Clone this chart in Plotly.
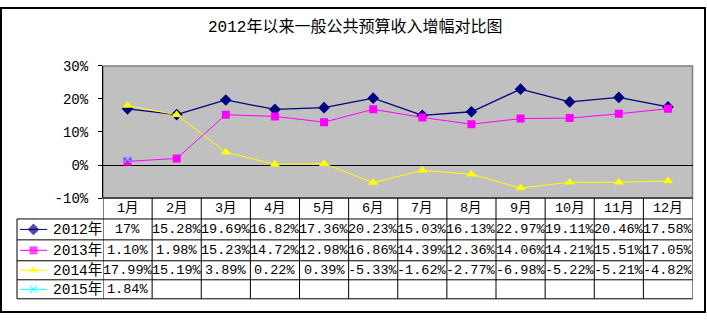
import plotly.graph_objects as go

# ---- data -------------------------------------------------------------
months = ["1月", "2月", "3月", "4月", "5月", "6月", "7月", "8月", "9月", "10月", "11月", "12月"]
series_names = ["2012年", "2013年", "2014年", "2015年"]
v2012 = [17, 15.28, 19.69, 16.82, 17.36, 20.23, 15.03, 16.13, 22.97, 19.11, 20.46, 17.58]
v2013 = [1.10, 1.98, 15.23, 14.72, 12.98, 16.86, 14.39, 12.36, 14.06, 14.21, 15.51, 17.05]
v2014 = [17.99, 15.19, 3.89, 0.22, 0.39, -5.33, -1.62, -2.77, -6.98, -5.22, -5.21, -4.82]
v2015 = [1.84]
y_ticks = [-10, 0, 10, 20, 30]
title_text = "2012年以来一般公共预算收入增幅对比图"

# ---- styling ----------------------------------------------------------
W, H = 707, 323
FONT = "Liberation Mono, Noto Sans CJK SC, monospace"
colors = ["#000080", "#FF00FF", "#FFFF00", "#00FFFF"]
symbols = ["diamond", "square", "triangle-up", "x-thin-open"]
msizes = [9, 8, 9, 7]

# plot-area and table geometry (pixels)
PL, PR, PT, PB = 103, 692.5, 62, 201
row_edges = [201, 223, 245, 267, 287, 307]   # header row + 4 series rows
TL = 17                                      # left edge of legend column


def px(x):
    return x / W


def py(y):
    return 1 - y / H


def fmt(v):
    return f"{v:.0f}%" if float(v).is_integer() else f"{v:.2f}%"


all_series = [v2012, v2013, v2014, v2015]

fig = go.Figure()

# main lines
for name, vals, c, s, ms in zip(series_names, all_series, colors, symbols, msizes):
    fig.add_trace(go.Scatter(
        x=months[:len(vals)], y=vals, name=name, mode="lines+markers",
        line=dict(color=c, width=1.3 if c == "#000080" else 1),
        marker=dict(symbol=s, size=ms, color=c, line=dict(color=c, width=1.2 if "x" in s else 0)),
        showlegend=False, hoverinfo="skip",
    ))

# legend keys inside the data table (overlay axes in pixel units)
for i, (c, s, ms) in enumerate(zip(colors, symbols, msizes)):
    yc = (row_edges[i + 1] + row_edges[i + 2]) / 2
    fig.add_trace(go.Scatter(
        x=[20, 33.5, 47], y=[yc, yc, yc], mode="lines+markers",
        line=dict(color=c, width=1),
        marker=dict(symbol=s, size=[0, ms, 0], color=c,
                    line=dict(color=c, width=1.2 if "x" in s else 0)),
        xaxis="x2", yaxis="y2", showlegend=False, hoverinfo="skip", cliponaxis=False,
    ))

shapes = []
annotations = []

# gray plot area with gray frame (left side is covered by the black axis line)
shapes.append(dict(type="rect", xref="paper", yref="paper",
                   x0=px(PL), x1=px(PR), y0=py(PB), y1=py(PT),
                   fillcolor="#C0C0C0",
                   line=dict(color="#808080", width=1.5), layer="below"))

# outer chart border
shapes.append(dict(type="rect", xref="paper", yref="paper",
                   x0=px(1), x1=px(705), y0=py(321), y1=py(1),
                   line=dict(color="black", width=2)))

# table: horizontal rules
shapes.append(dict(type="line", xref="paper", yref="paper",
                   x0=px(PL), x1=px(PR), y0=py(row_edges[0]), y1=py(row_edges[0]),
                   line=dict(color="black", width=1)))
for y in row_edges[1:]:
    shapes.append(dict(type="line", xref="paper", yref="paper",
                       x0=px(TL), x1=px(PR), y0=py(y), y1=py(y),
                       line=dict(color="black", width=1)))
# table: vertical rules at category boundaries
for k in range(len(months) + 1):
    shapes.append(dict(type="line", xref="x", yref="paper",
                       x0=k - 0.5, x1=k - 0.5, y0=py(row_edges[-1]), y1=py(row_edges[0]),
                       line=dict(color="black", width=1)))
shapes.append(dict(type="line", xref="paper", yref="paper",
                   x0=px(TL), x1=px(TL), y0=py(row_edges[-1]), y1=py(row_edges[1]),
                   line=dict(color="black", width=1)))

# header row: month labels
hc = (row_edges[0] + row_edges[1]) / 2
for k, m in enumerate(months):
    annotations.append(dict(x=k, y=py(hc), xref="x", yref="paper", text=m,
                            showarrow=False, font=dict(family=FONT, size=13.5, color="black"),
                            xanchor="center", yanchor="middle"))

# series rows: legend labels and values
for i, (name, vals) in enumerate(zip(series_names, all_series)):
    yc = (row_edges[i + 1] + row_edges[i + 2]) / 2
    annotations.append(dict(x=px(51), y=py(yc), xref="paper", yref="paper", text=name,
                            showarrow=False, font=dict(family=FONT, size=14.5, color="black"),
                            xanchor="left", yanchor="middle"))
    for k, v in enumerate(vals):
        annotations.append(dict(x=k, y=py(yc), xref="x", yref="paper", text=fmt(v),
                                showarrow=False, font=dict(family=FONT, size=13.5, color="black"),
                                xanchor="center", yanchor="middle"))

# title
annotations.append(dict(x=px(355), y=py(21), xref="paper", yref="paper", text=title_text,
                        showarrow=False, font=dict(family=FONT, size=16, color="black"),
                        xanchor="center", yanchor="middle"))

fig.update_layout(
    width=W, height=H,
    margin=dict(l=0, r=0, t=0, b=0),
    paper_bgcolor="white",
    plot_bgcolor="rgba(0,0,0,0)",
    shapes=shapes,
    annotations=annotations,
    xaxis=dict(domain=[px(PL), px(PR)], type="category", range=[-0.5, 11.5],
               showticklabels=False, showgrid=False, zeroline=False, ticks="",
               showline=False, fixedrange=True),
    yaxis=dict(domain=[py(PB), py(PT)], range=[-10, 30], tickvals=y_ticks,
               ticktext=[f"{t}%" for t in y_ticks], ticks="outside", ticklen=4,
               tickcolor="black", showline=True, linecolor="black", linewidth=1,
               showgrid=False, zeroline=True, zerolinecolor="black", zerolinewidth=1,
               ticklabelstandoff=7,
               tickfont=dict(family=FONT, size=14, color="black"), fixedrange=True),
    xaxis2=dict(domain=[0, 1], range=[0, W], visible=False, anchor="y2", fixedrange=True),
    yaxis2=dict(domain=[0, 1], range=[H, 0], visible=False, anchor="x2", fixedrange=True),
    showlegend=False,
)

fig.write_html("out.html")
